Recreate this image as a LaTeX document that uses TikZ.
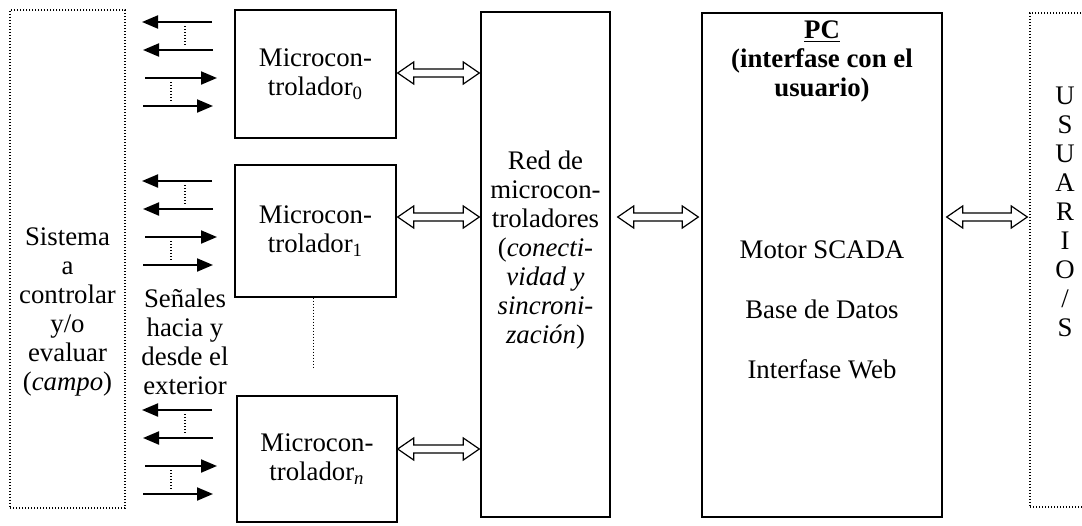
\documentclass[tikz,border=0pt]{standalone}
\usepackage{fontspec}
\setmainfont{Liberation Serif}
\usetikzlibrary{arrows.meta, calc, positioning}

\tikzset{
  box/.style={draw, line width=0.7pt, inner sep=0pt, align=center},
  fieldbox/.style={draw, line width=0.7pt, dash pattern=on 0.6pt off 0.9pt, inner sep=0pt},
  sig/.style={line width=1pt, -{Triangle[length=8pt, width=6.5pt]}},
  dots/.style={line width=0.6pt, dash pattern=on 0.6pt off 0.9pt},
  dbl/.style={line width=0.6pt, to path={
    (\tikztostart) -- ++(16,-11) -- ++(0,7) -- ($(\tikztotarget)+(-16,-4)$) -- ++(0,-7)
    -- (\tikztotarget) -- ++(-16,11) -- ++(0,-7) -- ($(\tikztostart)+(16,4)$) -- ++(0,7) -- cycle}}
}

\begin{document}
\begin{tikzpicture}[x=0.5pt, y=-0.5pt, font=\fontsize{13.4}{14.5}\selectfont]
  \useasboundingbox (0,0) rectangle (1082,525);

  % campo y usuarios
  \node[fieldbox, minimum width=57.5pt, minimum height=249pt] (campo) at (67.5,259) {};
  \node[align=center] (campotxt) at (67.5,312) {Sistema\\a\\controlar\\y/o\\evaluar\\(\textit{campo})};
  \node[fieldbox, minimum width=40pt, minimum height=247pt] (usr) at (1070,260) {};
  \node[align=center] (usrtxt) at (1065,212) {U\\S\\U\\A\\R\\I\\O\\/\\S};

  % microcontroladores
  \node[box, minimum width=80.5pt, minimum height=64pt] (m0) at (315.5,74) {Microcon-\\trolador\textsubscript{0}};
  \node[box, minimum width=80.5pt, minimum height=66pt] (m1) at (315.5,231) {Microcon-\\trolador\textsubscript{1}};
  \node[box, minimum width=80pt, minimum height=63pt] (mn) at (317,459) {Microcon-\\trolador\textsubscript{\itshape n}};
  \draw[dots] ($(m1.south)+(-2,0)$) -- ++(0,70);

  % red y PC
  \node[box, minimum width=64.5pt, minimum height=252.5pt] (red) at (545.5,264.5) {};
  \node[align=center] (redtxt) at (545.5,250) {Red de\\microcon-\\troladores\\(\textit{conecti-}\\\textit{vidad y}\\\textit{sincroni-}\\\textit{zación})};
  \node[box, minimum width=120pt, minimum height=252pt] (pc) at (822,265) {};
  \node[align=center, font=\fontsize{13.4}{14.5}\selectfont\bfseries] (pctit) at (822,61) {\underline{PC}\\(interfase con el\\usuario)};
  \node[align=center] (pctxt) at (822,310) {Motor SCADA\\[15.5pt]Base de Datos\\[15.5pt]Interfase Web};

  % senales
  \node[align=center] (senal) at (185,342) {Señales\\hacia y\\desde el\\exterior};
  \foreach \y in {22, 181, 410} {
    \draw[sig] (212,\y) -- (142,\y);
    \draw[sig] (213,\y+28) -- (143,\y+28);
    \draw[sig] (145,\y+56) -- (217,\y+56);
    \draw[sig] (143,\y+84) -- (213,\y+84);
    \draw[dots] (185,\y+4) -- (185,\y+24);
    \draw[dots] (171,\y+60) -- (171,\y+80);
  }

  % flechas dobles
  \coordinate (a0) at ($(m0.east)+(1,-1)$);
  \coordinate (a1) at ($(m1.east)+(1,-14)$);
  \coordinate (an) at ($(mn.east)+(0,-10)$);
  \draw[dbl] (a0) to ($(a0 -| red.west)+(-1,0)$);
  \draw[dbl] (a1) to ($(a1 -| red.west)+(-1,0)$);
  \draw[dbl] (an) to ($(an -| red.west)+(-1,0)$);
  \draw[dbl] ($(a1 -| red.east)+(7,0)$) to ($(a1 -| pc.west)+(-3,0)$);
  \draw[dbl] ($(a1 -| pc.east)+(4,0)$) to ($(a1 -| usr.west)+(-2,0)$);
\end{tikzpicture}
\end{document}
